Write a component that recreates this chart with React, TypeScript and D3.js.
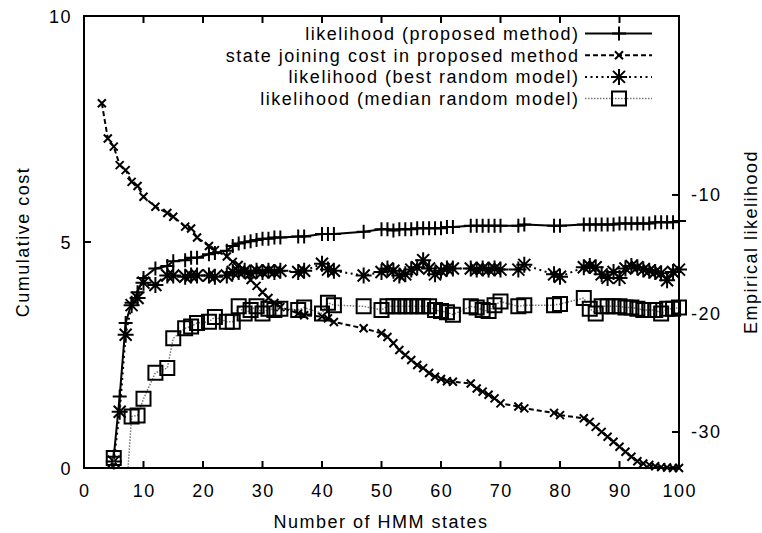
import React from 'react';
import * as d3 from 'd3';

// number of HMM states at which each model was evaluated
const states = [3, 4, 5, 6, 7, 8, 9, 10, 12, 14, 15, 17, 18, 19, 21, 22, 24,
  25, 26, 27, 28, 29, 30, 31, 32, 33, 36, 37, 40, 41, 42, 47,
  50, 51, 52, 53, 54, 55, 56, 57, 58, 59, 60, 61, 62,
  65, 66, 67, 68, 69, 70, 73, 74, 79, 80,
  84, 85, 86, 87, 88, 89, 90, 91, 92, 93, 94, 95, 96, 97, 98, 99, 100];

const likelihoodProposed = [-40, -35.3, -32.1, -27.0, -20.8, -19.1, -18.2, -17.0, -16.2, -16.0, -15.6, -15.5, -15.3, -15.3, -15.0, -14.9, -14.7,
  -14.3, -14.1, -14.0, -13.9, -13.8, -13.7, -13.7, -13.6, -13.6, -13.5, -13.5, -13.3, -13.3, -13.3, -13.1,
  -12.9, -12.9, -13.0, -12.9, -12.9, -12.9, -12.8, -12.8, -12.8, -12.8, -12.8, -12.7, -12.7,
  -12.6, -12.6, -12.6, -12.6, -12.6, -12.6, -12.6, -12.5, -12.6, -12.6,
  -12.5, -12.5, -12.5, -12.5, -12.5, -12.5, -12.4, -12.4, -12.4, -12.4, -12.4, -12.4, -12.3, -12.3, -12.3, -12.3, -12.2];

const joiningCost = [8.07, 7.29, 7.11, 6.70, 6.59, 6.33, 6.24, 6.00, 5.78, 5.64, 5.56, 5.34, 5.30, 5.10, 4.91, 4.82, 4.68,
  4.56, 4.49, 4.34, 4.16, 4.03, 3.89, 3.76, 3.65, 3.56, 3.42, 3.38, 3.35, 3.31, 3.23, 3.09,
  2.98, 2.90, 2.76, 2.61, 2.50, 2.39, 2.28, 2.21, 2.10, 2.02, 1.97, 1.92, 1.91,
  1.87, 1.76, 1.69, 1.62, 1.54, 1.43, 1.36, 1.32, 1.22, 1.17,
  1.10, 1.02, 0.91, 0.80, 0.69, 0.58, 0.47, 0.36, 0.25, 0.15, 0.10, 0.07, 0.04, 0.02, 0.01, 0.0, 0.0];

const likelihoodBest = [-45, -35.5, -32.5, -28.3, -21.8, -19.3, -18.7, -17.4, -17.6, -16.8, -16.8, -16.9, -16.8, -16.8, -16.8, -16.9, -16.8,
  -16.5, -16.5, -16.4, -16.6, -16.4, -16.5, -16.4, -16.5, -16.4, -16.5, -16.4, -15.8, -16.3, -16.4, -16.8,
  -16.5, -16.2, -16.4, -16.8, -16.7, -16.3, -16.1, -15.5, -16.2, -16.7, -16.4, -16.2, -16.2,
  -16.2, -16.3, -16.2, -16.3, -16.2, -16.3, -16.3, -15.9, -16.7, -16.9,
  -16.1, -16.0, -16.1, -16.7, -17.0, -16.5, -17.0, -16.2, -16.0, -16.1, -16.3, -16.4, -16.5, -16.6, -17.2, -16.5, -16.3];

const likelihoodMedian = [-45, -40, -32.2, -37, -36, -28.7, -28.6, -27.2, -25.0, -24.6, -22.1, -21.25, -21.1, -20.8, -20.7, -20.3, -20.7,
  -20.7, -19.4, -20.0, -19.7, -19.4, -20.0, -19.6, -19.7, -19.6, -19.7, -19.5, -20.0, -19.1, -19.3, -19.4,
  -19.7, -19.4, -19.4, -19.4, -19.4, -19.4, -19.4, -19.4, -19.4, -19.7, -19.8, -19.9, -20.1,
  -19.4, -19.5, -19.7, -19.8, -19.3, -19.0, -19.4, -19.3, -19.3, -19.2,
  -18.7, -19.6, -20.0, -19.4, -19.4, -19.4, -19.4, -19.5, -19.5, -19.6, -19.7, -19.7, -19.7, -20.0, -19.6, -19.6, -19.5];

const xTicks = [0, 10, 20, 30, 40, 50, 60, 70, 80, 90, 100];
const costTicks = [0, 5, 10];
const likelihoodTicks = [-10, -20, -30];

const FONT = '"Liberation Sans", Arial, sans-serif';

const markerPath = (kind: string) => {
  if (kind === 'plus') return 'M-7,0H7M0,-7V7';
  if (kind === 'cross') return 'M-4,-4L4,4M-4,4L4,-4';
  if (kind === 'star') return 'M-8,0H8M0,-8V8M-6,-6L6,6M-6,6L6,-6';
  return 'M-7,-7H7V7H-7Z';
};

const App = () => {
  const width = 762;
  const height = 533;
  const left = 84, right = 679, top = 16, bottom = 468;

  const x = d3.scaleLinear().domain([0, 100]).range([left, right]);
  const yCost = d3.scaleLinear().domain([0, 10]).range([bottom, top]);
  const yLik = d3.scaleLinear().domain([-33.04, 5.1]).range([bottom, top]);

  const series = [
    { label: 'likelihood (proposed method)', values: likelihoodProposed, y: yLik, marker: 'plus', stroke: '#000', dash: 'none', lw: 2 },
    { label: 'state joining cost in proposed method', values: joiningCost, y: yCost, marker: 'cross', stroke: '#000', dash: '5,3', lw: 2 },
    { label: 'likelihood (best random model)', values: likelihoodBest, y: yLik, marker: 'star', stroke: '#000', dash: '2,3.5', lw: 2 },
    { label: 'likelihood (median random model)', values: likelihoodMedian, y: yLik, marker: 'square', stroke: '#777', dash: '1.5,1.5', lw: 1.5 },
  ];

  const txt = { fontSize: 18, letterSpacing: 1.5 };

  return (
    <svg width={width} height={height} style={{ position: 'absolute', left: 0, top: 0 }} fontFamily={FONT}>
      <rect width={width} height={height} fill="#fff" />
      <defs>
        <clipPath id="plot-clip">
          <rect x={left} y={top} width={right - left} height={bottom - top} />
        </clipPath>
      </defs>

      {/* series */}
      {series.map((s, si) => {
        const line = d3.line<number>()
          .x((d, i) => x(states[i]))
          .y(d => s.y(d));
        const [lo, hi] = s.y.domain();
        return (
          <g key={si}>
            <path d={line(s.values) || ''} fill="none" stroke={s.stroke} strokeWidth={s.lw}
              strokeDasharray={s.dash} clipPath="url(#plot-clip)" />
            {s.values.map((v, i) => (v < lo || v > hi) ? null : (
              <path key={i} d={markerPath(s.marker)} transform={`translate(${x(states[i])},${s.y(v)})`}
                fill="none" stroke="#000" strokeWidth={2} />
            ))}
          </g>
        );
      })}

      {/* border */}
      <rect x={left} y={top} width={right - left} height={bottom - top} fill="none" stroke="#000" strokeWidth={2} />

      {/* x ticks, bottom and mirrored on top */}
      {xTicks.map(t => (
        <g key={t}>
          <line x1={x(t)} x2={x(t)} y1={bottom} y2={bottom - 7} stroke="#000" strokeWidth={2} />
          <line x1={x(t)} x2={x(t)} y1={top} y2={top + 7} stroke="#000" strokeWidth={2} />
          <text x={x(t) + 0.75} y={497} textAnchor="middle" {...txt}>{t}</text>
        </g>
      ))}

      {/* left axis */}
      {costTicks.map(t => (
        <g key={t}>
          <line x1={left} x2={left + 7} y1={yCost(t)} y2={yCost(t)} stroke="#000" strokeWidth={2} />
          <text x={72} y={yCost(t) + 6.5} textAnchor="end" {...txt}>{t}</text>
        </g>
      ))}

      {/* right axis */}
      {likelihoodTicks.map(t => (
        <g key={t}>
          <line x1={right} x2={right - 7} y1={yLik(t)} y2={yLik(t)} stroke="#000" strokeWidth={2} />
          <text x={691} y={yLik(t) + 6.5} textAnchor="start" {...txt}>{t}</text>
        </g>
      ))}

      <text x={381} y={528} textAnchor="middle" {...txt}>Number of HMM states</text>
      <text transform={`translate(29,${(top + bottom) / 2}) rotate(-90)`} textAnchor="middle" {...txt}>Cumulative cost</text>
      <text transform={`translate(757,${(top + bottom) / 2}) rotate(-90)`} textAnchor="middle" {...txt}>Empirical likelihood</text>

      {/* legend */}
      {series.map((s, i) => {
        const ly = 33.5 + i * 21.7;
        return (
          <g key={i}>
            <text x={579.5} y={ly + 6.5} textAnchor="end" {...txt}>{s.label}</text>
            <line x1={585} x2={652} y1={ly} y2={ly} stroke={s.stroke} strokeWidth={s.lw} strokeDasharray={s.dash} />
            <path d={markerPath(s.marker)} transform={`translate(619,${ly})`} fill="none" stroke="#000" strokeWidth={2} />
          </g>
        );
      })}
    </svg>
  );
};

export default App;
